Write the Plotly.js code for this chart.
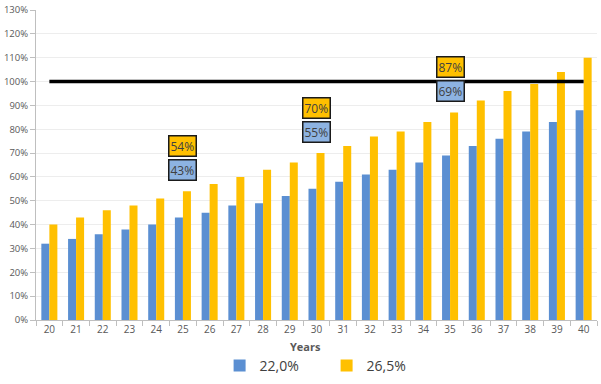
<!DOCTYPE html>
<html>
<head>
<meta charset="utf-8">
<script src="https://cdn.plot.ly/plotly-3.0.1.min.js"></script>
<style>
  html, body { margin: 0; padding: 0; background: #ffffff; }
  #chart { width: 601px; height: 384px; }
</style>
</head>
<body>
<div id="chart"></div>
<script>
// Years on the horizontal axis
const years = ['20','21','22','23','24','25','26','27','28','29','30',
               '31','32','33','34','35','36','37','38','39','40'];

// Share (%) for each rate
const rate220 = [32,34,36,38,40,43,45,48,49,52,55,58,61,63,66,69,73,76,79,83,88];
const rate265 = [40,43,46,48,51,54,57,60,63,66,70,73,77,79,83,87,92,96,99,104,110];

const seriesNames = ['22,0%', '26,5%'];

// Reference level and the years that get a value callout
const threshold = 100;
const calloutYears = ['25', '30', '35'];

const blue = '#5B8FD2';
const yellow = '#FFC000';
const textGrey = '#595959';

const traces = [
  { type: 'bar', name: seriesNames[0], x: years, y: rate220,
    marker: { color: blue }, hoverinfo: 'x+y' },
  { type: 'bar', name: seriesNames[1], x: years, y: rate265,
    marker: { color: yellow }, hoverinfo: 'x+y' },
  { type: 'scatter', mode: 'lines', x: [years[0], years[years.length - 1]],
    y: [threshold, threshold], line: { color: '#000000', width: 3.5 },
    showlegend: false, hoverinfo: 'skip' }
];

// Callout boxes: yellow value above, blue value just below it
const calloutFont = { family: 'Open Sans, sans-serif', size: 12, color: '#404040' };
const annotations = [];
calloutYears.forEach(function (yr) {
  const i = years.indexOf(yr);   // category axes take the index
  const top = rate265[i] + 19;
  annotations.push({
    x: i, y: top, xref: 'x', yref: 'y', text: rate265[i] + '%', showarrow: false,
    bgcolor: yellow, bordercolor: '#1a1a1a', borderwidth: 1.5, borderpad: 1,
    font: calloutFont
  });
  annotations.push({
    x: i, y: top - 10, xref: 'x', yref: 'y', text: rate220[i] + '%', showarrow: false,
    bgcolor: '#8DB3E2', bordercolor: '#1a1a1a', borderwidth: 1.5, borderpad: 1,
    font: calloutFont
  });
});
// Axis caption under the year labels
annotations.push({
  x: 0.481, xref: 'paper', y: -0.087, yref: 'paper', yanchor: 'middle',
  text: '<b>Years</b>', showarrow: false,
  font: { size: 11, color: textGrey }
});

const layout = {
  width: 601, height: 384,
  margin: { l: 36, r: 4, t: 10, b: 64, autoexpand: false },
  paper_bgcolor: '#ffffff', plot_bgcolor: '#ffffff',
  font: { family: 'Open Sans, sans-serif', size: 10, color: textGrey },
  barmode: 'group', bargap: 0.4, bargroupgap: 0,
  showlegend: true,
  legend: {
    orientation: 'h', x: 0.518, xanchor: 'center',
    yref: 'container', y: 1 - 366 / 384, yanchor: 'middle',
    font: { size: 14, color: '#404040' }, itemwidth: 30, entrywidth: 62,
    traceorder: 'normal'
  },
  xaxis: {
    type: 'category', range: [-0.5, years.length - 0.5],
    showgrid: false, zeroline: false,
    showline: true, linecolor: '#BFBFBF', linewidth: 1,
    ticks: 'outside', tickson: 'boundaries', ticklen: 5, tickcolor: '#BFBFBF',
    tickangle: 0, tickfont: { size: 10, color: textGrey },
    fixedrange: true
  },
  yaxis: {
    range: [0, 130], dtick: 10, ticksuffix: '%',
    showgrid: true, gridcolor: '#EDEDED', gridwidth: 1, zeroline: false,
    showline: true, linecolor: '#BFBFBF', linewidth: 1,
    ticks: 'outside', ticklen: 5, tickcolor: '#BFBFBF',
    tickfont: { size: 9.5, color: textGrey },
    fixedrange: true
  },
  annotations: annotations
};

Plotly.newPlot('chart', traces, layout, { displayModeBar: false, staticPlot: true });
</script>
</body>
</html>
